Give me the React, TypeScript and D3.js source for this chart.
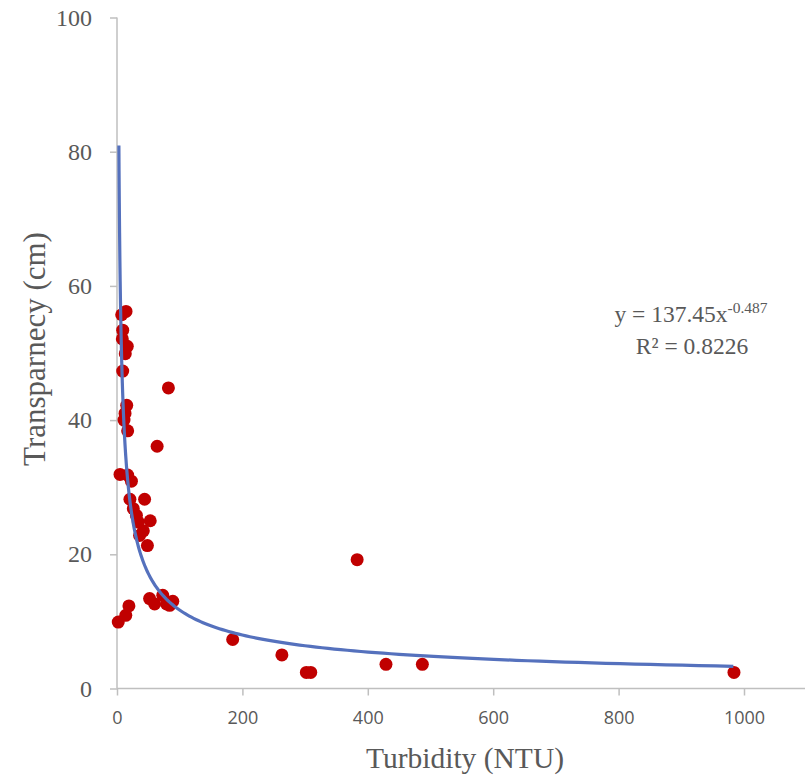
import React, { useEffect, useRef } from 'react';
import * as d3 from 'd3';

// turbidity (NTU) of each sample
const turbidity = [
  2, 14, 19, 52, 60, 73, 79, 84, 89,
  48.5, 36, 42, 34, 53, 31, 26, 20.6, 44, 23, 17, 4.8,
  64, 17, 11.2, 12.8, 15.5, 82, 9.1, 13.2, 16.4, 8.5, 9.1, 7.5, 14.4,
  184.5, 263, 302, 309, 429, 487, 984, 383,
];
// transparency (cm) of each sample
const transparency = [
  9.9, 10.9, 12.3, 13.4, 12.6, 13.9, 12.6, 12.4, 13.0,
  21.3, 22.8, 23.5, 24.8, 25.0, 25.8, 26.8, 28.2, 28.2, 30.9, 31.8, 31.9,
  36.1, 38.4, 40.0, 41.0, 42.2, 44.8, 47.3, 49.9, 51.0, 52.1, 53.4, 55.7, 56.2,
  7.3, 5.0, 2.4, 2.4, 3.6, 3.6, 2.4, 19.2,
];

const xTicks = [0, 200, 400, 600, 800, 1000];
const yTicks = [0, 20, 40, 60, 80, 100];

// power trend line, as it is drawn in the picture
const trendA = 148.4;
const trendB = 0.552;
const trendFrom = 3;
const trendTo = 983;

const equationLine = 'y = 137.45x';
const equationExp = '-0.487';
const r2Line = 'R² = 0.8226';

const grey = '#595959';
const axisGrey = '#bfbfbf';
const serif = '"Liberation Serif", "Times New Roman", serif';

export default function App() {
  const ref = useRef<SVGSVGElement>(null);

  useEffect(() => {
    const svg = d3.select(ref.current);
    svg.selectAll('*').remove();

    const x = d3.scaleLinear().domain([0, 1000]).range([117, 744]);
    const y = d3.scaleLinear().domain([0, 100]).range([688.5, 17.5]);

    // axis lines
    svg.append('line')
      .attr('x1', x(0)).attr('x2', 805)
      .attr('y1', y(0)).attr('y2', y(0))
      .attr('stroke', axisGrey).attr('stroke-width', 1.5);
    svg.append('line')
      .attr('x1', x(0)).attr('x2', x(0))
      .attr('y1', y(100)).attr('y2', y(0))
      .attr('stroke', axisGrey).attr('stroke-width', 1.5);

    // y axis
    const gy = svg.append('g')
      .attr('transform', `translate(${x(0)},0)`)
      .call(d3.axisLeft(y).tickValues(yTicks).tickSize(7).tickSizeOuter(0).tickPadding(18));
    gy.select('.domain').remove();
    gy.selectAll('line').attr('stroke', axisGrey).attr('stroke-width', 1.5);
    gy.selectAll('text')
      .attr('fill', grey)
      .attr('font-family', serif)
      .attr('font-size', 24);

    // x axis
    const gx = svg.append('g')
      .attr('transform', `translate(0,${y(0)})`)
      .call(d3.axisBottom(x).tickValues(xTicks).tickFormat(d3.format('d')).tickSize(7).tickSizeOuter(0).tickPadding(16));
    gx.select('.domain').remove();
    gx.selectAll('line').attr('stroke', axisGrey).attr('stroke-width', 1.5);
    gx.selectAll('text')
      .attr('fill', grey)
      .attr('font-family', '"Open Sans", sans-serif')
      .attr('font-size', 18);

    // points
    const points = turbidity.map((t, i) => [t, transparency[i]]);
    svg.append('g')
      .selectAll('circle')
      .data(points)
      .enter()
      .append('circle')
      .attr('cx', d => x(d[0]))
      .attr('cy', d => y(d[1]))
      .attr('r', 6.5)
      .attr('fill', '#c00000');

    // trend line
    const trendX = d3.range(0, 201).map(i => trendFrom * Math.pow(trendTo / trendFrom, i / 200));
    const line = d3.line<number>()
      .x(d => x(d))
      .y(d => y(trendA * Math.pow(d, -trendB)));
    svg.append('path')
      .attr('d', line(trendX))
      .attr('fill', 'none')
      .attr('stroke', '#5571bd')
      .attr('stroke-width', 3.2);

    // equation
    const eq = svg.append('text')
      .attr('x', 691).attr('y', 322)
      .attr('text-anchor', 'middle')
      .attr('font-family', serif)
      .attr('font-size', 23.5)
      .attr('fill', grey);
    eq.append('tspan').text(equationLine);
    eq.append('tspan').attr('dy', -9).attr('font-size', 15.5).text(equationExp);
    svg.append('text')
      .attr('x', 692).attr('y', 354)
      .attr('text-anchor', 'middle')
      .attr('font-family', serif)
      .attr('font-size', 23.5)
      .attr('fill', grey)
      .text(r2Line);

    // titles
    svg.append('text')
      .attr('x', 465).attr('y', 768)
      .attr('text-anchor', 'middle')
      .attr('font-family', serif)
      .attr('font-size', 29.5)
      .attr('fill', grey)
      .text('Turbidity (NTU)');
    svg.append('text')
      .attr('transform', 'translate(45,349) rotate(-90)')
      .attr('text-anchor', 'middle')
      .attr('font-family', serif)
      .attr('font-size', 31)
      .attr('fill', grey)
      .text('Transparnecy (cm)');
  }, []);

  return (
    <svg
      ref={ref}
      width={811}
      height={776}
      style={{ position: 'absolute', left: 0, top: 0, background: '#fff' }}
    />
  );
}
